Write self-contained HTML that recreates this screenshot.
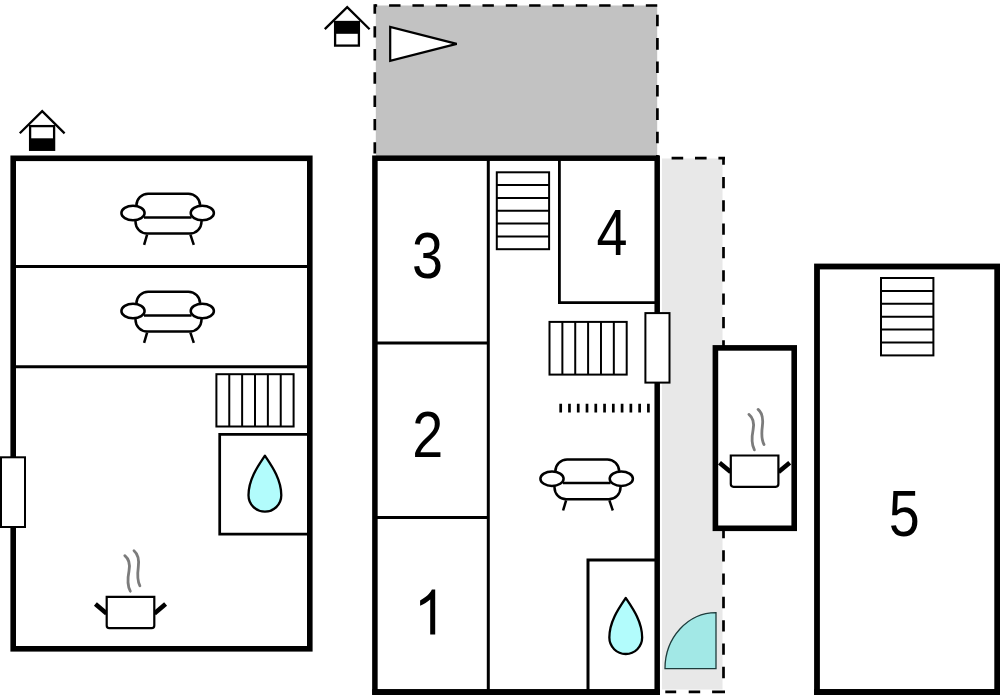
<!DOCTYPE html>
<html><head><meta charset="utf-8">
<style>
html,body{margin:0;padding:0;background:#fff;}
body{width:1000px;height:695px;overflow:hidden;}
svg{display:block;}
text{font-family:"Liberation Sans",sans-serif;font-size:64px;fill:#000;}
</style></head>
<body>
<svg width="1000" height="695" viewBox="0 0 1000 695">
<defs>
  <g id="sofa" fill="#fff" stroke="#000" stroke-width="2.5">
    <path d="M26.4,28 L26.4,25.4 A11.7,11.7 0 0 1 38.1,13.7 L78.4,13.7 A11.7,11.7 0 0 1 90.1,25.4 L90.1,28"/>
    <path d="M25.5,38 L25.5,41.8 A11.7,11.7 0 0 0 37.2,53.5 L79.8,53.5 A11.7,11.7 0 0 0 91.5,41.8 L91.5,38"/>
    <line x1="34" y1="37.4" x2="81.5" y2="37.4"/>
    <ellipse cx="23" cy="33" rx="11.6" ry="7.2"/>
    <ellipse cx="92.3" cy="33" rx="11.6" ry="7.2"/>
    <line x1="37.1" y1="54.6" x2="34.1" y2="64.8"/>
    <line x1="80.4" y1="54.6" x2="83.8" y2="64.8"/>
  </g>
  <g id="pot">
        <line x1="95.4" y1="604.1" x2="106.6" y2="613.4" stroke="#000" stroke-width="4.6"/>
    <line x1="154.4" y1="613.4" x2="165.6" y2="604.1" stroke="#000" stroke-width="4.6"/>
    <path d="M106.7,596.8 L154.3,596.8 L154.3,625.4 Q154.3,628.1 151.6,628.1 L109.4,628.1 Q106.7,628.1 106.7,625.4 Z" fill="#fff" stroke="#000" stroke-width="2.2"/>
    <path d="M124.8,555.7 C129.5,559.5 130.2,565 129,571 C127.8,577 127,585 130.3,591.2" fill="none" stroke="#7c7c7c" stroke-width="2.8" stroke-linecap="round"/>
    <path d="M134,550.7 C138.5,554.5 139.2,560 138.3,567 C137.4,574 136.8,580 139.9,585.8" fill="none" stroke="#7c7c7c" stroke-width="2.8" stroke-linecap="round"/>
  </g>
  <path id="drop" d="M0,0 C-6,9 -16.4,23 -16.4,39.6 A16.4,16.4 0 0 0 16.4,39.6 C16.4,23 6,9 0,0 Z" fill="#b2fcfc" stroke="#000" stroke-width="2.3" stroke-linejoin="round"/>
</defs>

<!-- top gray area -->
<rect x="375.8" y="5.5" width="281.4" height="152" fill="#c2c2c2"/>
<!-- light gray strip -->
<rect x="662" y="158.5" width="60.5" height="531" fill="#e8e8e8"/>

<!-- dashed lines gray rect -->
<g stroke="#000" stroke-width="2.7" fill="none">
  <line x1="374.8" y1="5.5" x2="657.4" y2="5.5" stroke-dasharray="11.4 11.94" stroke-dashoffset="-14.3"/>
  <line x1="374.8" y1="4.2" x2="374.8" y2="156" stroke-dasharray="9.5 12.6 11.1 11.6 11.4 11.9 11.4 11.9 11.4 11.9 11.4 11.9 11.4 11.9 11.4 11.9"/>
  <line x1="657.4" y1="4.2" x2="657.4" y2="156" stroke-dasharray="11.6 11.8" stroke-dashoffset="-10.5"/>
  <!-- strip -->
  <line x1="660" y1="158.2" x2="725" y2="158.2" stroke-dasharray="11.6 11.8" stroke-dashoffset="11.8"/>
  <line x1="723.5" y1="156.9" x2="723.5" y2="689" stroke-dasharray="11.3 12.03" stroke-dashoffset="3.33"/>
  <line x1="725" y1="691.8" x2="660" y2="691.8" stroke-dasharray="12.9 11.9 11.5 12.5 10.9 100"/>
</g>

<!-- Left building -->
<rect x="13.2" y="158.3" width="296.6" height="490.5" fill="#fff"/>
<line x1="16" y1="266.4" x2="307" y2="266.4" stroke="#000" stroke-width="3"/>
<line x1="16" y1="366.7" x2="307" y2="366.7" stroke="#000" stroke-width="3"/>
<use href="#sofa" x="110" y="180"/>
<use href="#sofa" x="110" y="278"/>
<!-- radiator 1 -->
<g stroke="#000" stroke-width="2" fill="none">
  <rect x="216.4" y="374.2" width="77.2" height="52.3" fill="#fff"/>
  <line x1="229.27" y1="374.2" x2="229.27" y2="426.5"/>
  <line x1="242.13" y1="374.2" x2="242.13" y2="426.5"/>
  <line x1="255" y1="374.2" x2="255" y2="426.5"/>
  <line x1="267.87" y1="374.2" x2="267.87" y2="426.5"/>
  <line x1="280.73" y1="374.2" x2="280.73" y2="426.5"/>
</g>
<path d="M310,434.3 L219.7,434.3 L219.7,534.1 L310,534.1" fill="#fff" stroke="#000" stroke-width="2.7"/>
<use href="#drop" x="264.9" y="455.7"/>
<use href="#pot"/>
<rect x="13.2" y="158.3" width="296.6" height="490.5" fill="none" stroke="#000" stroke-width="5.6"/>
<rect x="1" y="457.3" width="24" height="69.7" fill="#fff" stroke="#000" stroke-width="2"/>

<!-- House icons -->
<g id="house2">
  <polyline points="324.8,29.1 347.2,7.2 369.6,29.3" fill="none" stroke="#000" stroke-width="2.3"/>
  <rect x="335.1" y="22" width="23.8" height="23.6" fill="#fff" stroke="#000" stroke-width="2.3"/>
  <rect x="335" y="21.9" width="24" height="11.9" fill="#000"/>
</g>
<g>
  <polyline points="19.8,133.2 42.2,111.2 64.6,133.4" fill="none" stroke="#000" stroke-width="2.3"/>
  <rect x="30.1" y="126.1" width="24" height="23.7" fill="#fff" stroke="#000" stroke-width="2.3"/>
  <rect x="30" y="138.3" width="24.2" height="11.6" fill="#000"/>
</g>

<!-- triangle -->
<path d="M390.2,27 L390.2,60.8 L456.7,43.9 Z" fill="#fff" stroke="#000" stroke-width="2.2"/>

<!-- Middle building -->
<rect x="374.9" y="158.2" width="282.3" height="533.8" fill="#fff"/>
<g stroke="#000" fill="none">
  <line x1="488.3" y1="160" x2="488.3" y2="690" stroke-width="3"/>
  <line x1="377" y1="343" x2="488" y2="343" stroke-width="3"/>
  <line x1="377" y1="517.4" x2="488" y2="517.4" stroke-width="3"/>
  <line x1="559.4" y1="160" x2="559.4" y2="304" stroke-width="2.8"/>
  <line x1="558" y1="302.7" x2="655" y2="302.7" stroke-width="2.8"/>
</g>
<!-- stairs 2 -->
<g stroke="#000" stroke-width="2" fill="none">
  <rect x="496.8" y="172.3" width="52.3" height="76.9"/>
  <line x1="496.8" y1="185.12" x2="549.1" y2="185.12"/>
  <line x1="496.8" y1="197.93" x2="549.1" y2="197.93"/>
  <line x1="496.8" y1="210.75" x2="549.1" y2="210.75"/>
  <line x1="496.8" y1="223.57" x2="549.1" y2="223.57"/>
  <line x1="496.8" y1="236.38" x2="549.1" y2="236.38"/>
</g>
<!-- radiator 2 -->
<g stroke="#000" stroke-width="2" fill="none">
  <rect x="549.5" y="321.9" width="77.2" height="52.7"/>
  <line x1="562.37" y1="321.9" x2="562.37" y2="374.6"/>
  <line x1="575.23" y1="321.9" x2="575.23" y2="374.6"/>
  <line x1="588.1" y1="321.9" x2="588.1" y2="374.6"/>
  <line x1="600.97" y1="321.9" x2="600.97" y2="374.6"/>
  <line x1="613.83" y1="321.9" x2="613.83" y2="374.6"/>
</g>
<!-- ticks -->
<line x1="559.35" y1="408.1" x2="650" y2="408.1" stroke="#000" stroke-width="8.6" stroke-dasharray="2.7 6.07"/>
<use href="#sofa" x="529" y="445.7"/>
<path d="M657,560.1 L588,560.1 L588,690" fill="none" stroke="#000" stroke-width="3"/>
<use href="#drop" x="625.75" y="598"/>
<rect x="374.9" y="158.2" width="282.3" height="533.8" fill="none" stroke="#000" stroke-width="5.5"/>
<rect x="645.4" y="313.1" width="24.1" height="69.5" fill="#fff" stroke="#000" stroke-width="2"/>
<!-- door -->
<path d="M716,668.6 L716,612.6 A51,56 0 0 0 665,668.6 Z" fill="#a2e8e6" stroke="#1e3c3c" stroke-width="1.3"/>

<!-- small building -->
<rect x="715.4" y="347.9" width="78.8" height="180.4" fill="#fff" stroke="#000" stroke-width="5.6"/>
<use href="#pot" x="624.1" y="-141.3"/>

<!-- building 5 -->
<rect x="817" y="266.5" width="180.2" height="425.5" fill="#fff" stroke="#000" stroke-width="5.8"/>
<g stroke="#000" stroke-width="2" fill="none">
  <rect x="881" y="278" width="52.4" height="77.4"/>
  <line x1="881" y1="290.9" x2="933.4" y2="290.9"/>
  <line x1="881" y1="303.8" x2="933.4" y2="303.8"/>
  <line x1="881" y1="316.7" x2="933.4" y2="316.7"/>
  <line x1="881" y1="329.6" x2="933.4" y2="329.6"/>
  <line x1="881" y1="342.5" x2="933.4" y2="342.5"/>
</g>

<rect x="372.2" y="689.2" width="287.8" height="6" fill="#000"/>
<rect x="814.1" y="689.2" width="186" height="6" fill="#000"/>
<!-- numbers -->
<g font-family="Liberation Sans, sans-serif" font-size="63" text-anchor="middle">
<text transform="translate(427.45,277.6) scale(0.87,1)">3</text>
<text transform="translate(611.95,254.9) scale(0.87,1)">4</text>
<text transform="translate(427.85,456.9) scale(0.87,1)">2</text>
<text transform="translate(904.2,535.8) scale(0.87,1)">5</text>
</g>
<path d="M435.2,634.4 L430.2,634.4 L430.2,599.5 C427.5,602 423.8,604.3 420.1,605.7 L420.1,600.4 C425.5,597.8 430,593.6 431.9,589.6 L435.2,589.6 Z" fill="#000"/>
</svg>
</body></html>
